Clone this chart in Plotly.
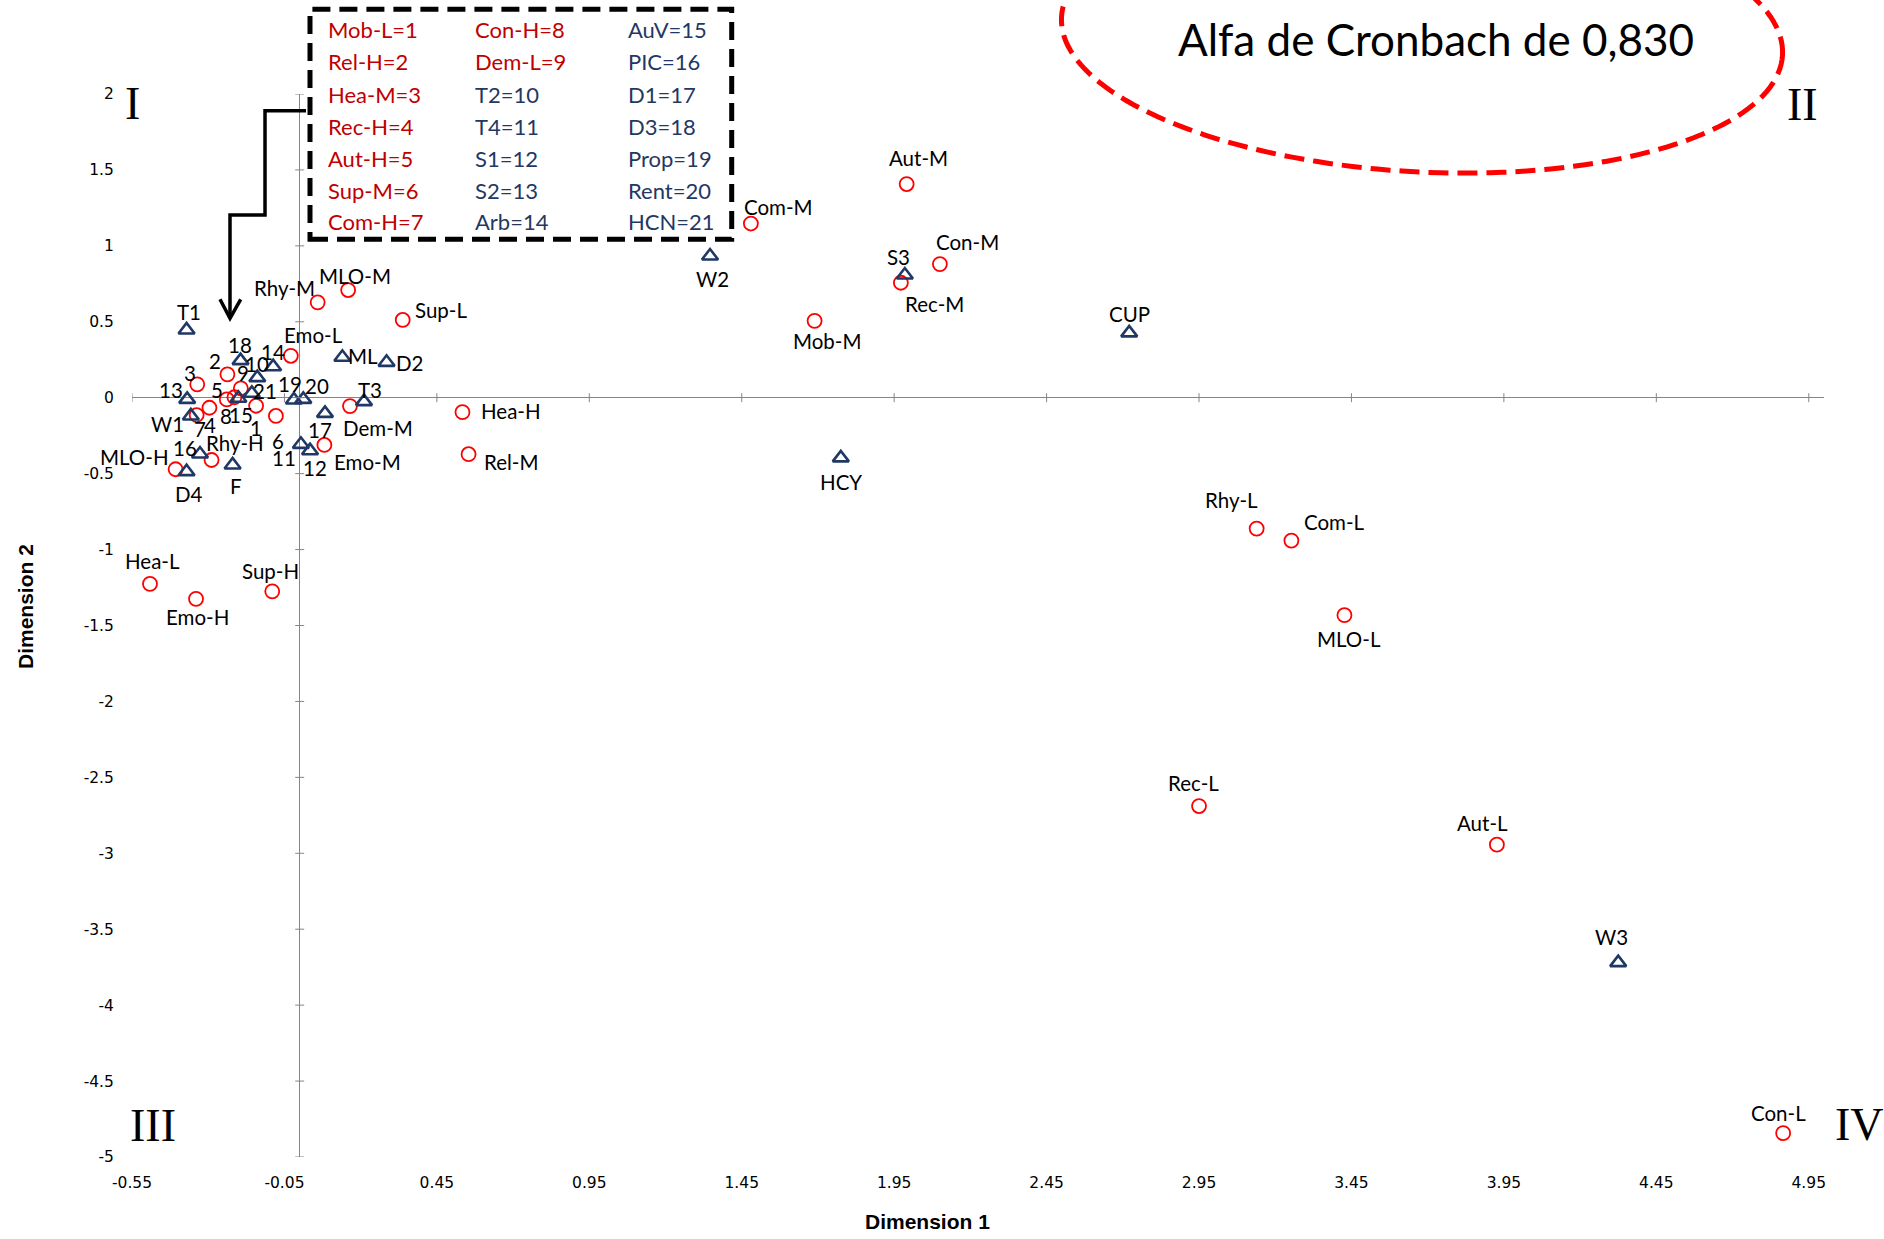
import math
import plotly.graph_objects as go

# ---------------- data ----------------
cat_text = ["1", "2", "3", "4", "5", "6", "7", "8", "9",
            "Rhy-M", "MLO-M", "Sup-L", "Emo-L", "Dem-M", "Emo-M", "Rhy-H", "MLO-H",
            "Hea-H", "Rel-M", "Hea-L", "Emo-H", "Sup-H", "Aut-M", "Con-M", "Rec-M",
            "Com-M", "Mob-M", "Rhy-L", "Com-L", "MLO-L", "Rec-L", "Aut-L", "Con-L"]
cat_x = [-0.143, -0.237, -0.336, -0.296, -0.239, -0.078, -0.338, -0.214, -0.193,
         0.059, 0.159, 0.338, -0.029, 0.165, 0.081, -0.289, -0.407,
         0.534, 0.554, -0.491, -0.340, -0.090, 1.991, 2.100, 1.972,
         1.480, 1.689, 3.139, 3.253, 3.427, 2.950, 3.927, 4.866]
cat_y = [-0.053, 0.154, 0.088, -0.066, -0.011, -0.120, -0.114, 0.003, 0.062,
         0.628, 0.709, 0.512, 0.276, -0.055, -0.311, -0.410, -0.471,
         -0.095, -0.372, -1.226, -1.325, -1.275, 1.407, 0.880, 0.757,
         1.147, 0.506, -0.862, -0.941, -1.432, -2.689, -2.943, -4.843]

var_text = ["10", "11", "12", "13", "14", "15", "16", "17", "18", "19", "20", "21",
            "T1", "ML", "D2", "T3", "W1", "D4", "F", "W2", "S3", "CUP", "HCY", "W3"]
var_x = [-0.139, 0.004, 0.034, -0.369, -0.087, -0.201, -0.327, 0.083, -0.194, -0.019, 0.012, -0.157,
         -0.371, 0.140, 0.285, 0.211, -0.357, -0.371, -0.220, 1.346, 1.985, 2.721, 1.775, 4.325]
var_y = [0.132, -0.307, -0.349, -0.011, 0.204, -0.004, -0.371, -0.103, 0.244, -0.015, -0.011, 0.029,
         0.446, 0.266, 0.233, -0.026, -0.120, -0.487, -0.443, 0.933, 0.808, 0.427, -0.396, -3.720]

legend_cat = ["Mob-L=1", "Rel-H=2", "Hea-M=3", "Rec-H=4", "Aut-H=5", "Sup-M=6", "Com-H=7",
              "Con-H=8", "Dem-L=9"]
legend_var = ["T2=10", "T4=11", "S1=12", "S2=13", "Arb=14",
              "AuV=15", "PIC=16", "D1=17", "D3=18", "Prop=19", "Rent=20", "HCN=21"]

x_ticks = [-0.55, -0.05, 0.45, 0.95, 1.45, 1.95, 2.45, 2.95, 3.45, 3.95, 4.45, 4.95]
y_ticks = [2, 1.5, 1, 0.5, 0, -0.5, -1, -1.5, -2, -2.5, -3, -3.5, -4, -4.5, -5]

# label offsets in pixels (dx right, dy down)
label_off = {
    "1": (0, 22), "2": (-12, -13), "3": (-7, -11), "4": (1, 17), "5": (-10, -9), "6": (2, 25),
    "7": (3, 14), "8": (-8, 19), "9": (2, -15),
    "10": (0, -14), "11": (-17, 14), "12": (5, 17), "13": (-16, -9), "14": (0, -15), "15": (3, 17),
    "16": (-15, -6), "17": (-5, 17), "18": (-1, -16), "19": (-4, -16), "20": (14, -13), "21": (13, -2),
    "T1": (2, -18), "ML": (21, -1), "D2": (23, 1), "T3": (6, -12), "W1": (-23, 8), "D4": (2, 22),
    "F": (3, 21), "W2": (2, 23), "S3": (-6, -18), "CUP": (0, -19), "HCY": (0, 24), "W3": (-7, -26),
    "Rhy-M": (-33, -14), "MLO-M": (7, -14), "Sup-L": (38, -10), "Emo-L": (23, -21), "Dem-M": (28, 22),
    "Emo-M": (43, 17), "Rhy-H": (23, -17), "MLO-H": (-41, -12), "Hea-H": (49, -1), "Rel-M": (43, 8),
    "Hea-L": (3, -23), "Emo-H": (1, 18), "Sup-H": (-2, -20), "Aut-M": (12, -26), "Con-M": (28, -22),
    "Rec-M": (34, 21), "Com-M": (28, -17), "Mob-M": (12, 20), "Rhy-L": (-25, -29), "Com-L": (43, -19),
    "MLO-L": (5, 24), "Rec-L": (-6, -23), "Aut-L": (-14, -22), "Con-L": (-5, -20),
}

# ---------------- layout geometry ----------------
W, H = 1884, 1239
ML_, MR_, MT_, MB_ = 132, 60, 94, 82
PW, PH = W - ML_ - MR_, H - MT_ - MB_


def px(xp):
    return (xp - ML_) / PW


def py(yp):
    return (H - MB_ - yp) / PH


RED = "#FF0000"
NAVY = "#1F3864"
LBL_FONT = dict(family="Lato, 'Open Sans', sans-serif", size=20.5, color="#000000")

fig = go.Figure()
fig.add_trace(go.Scatter(
    x=cat_x, y=cat_y, mode="markers", hoverinfo="text", text=cat_text,
    marker=dict(symbol="circle-open", size=14, color=RED, line=dict(width=1.8, color=RED)),
    showlegend=False))
fig.add_trace(go.Scatter(
    x=var_x, y=var_y, mode="markers", hoverinfo="text", text=var_text,
    marker=dict(symbol="triangle-up-open", size=14, color=NAVY, line=dict(width=2.6, color=NAVY)),
    showlegend=False))

annotations = []
for names, xs, ys in ((cat_text, cat_x, cat_y), (var_text, var_x, var_y)):
    for t, xv, yv in zip(names, xs, ys):
        dx, dy = label_off.get(t, (0, -18))
        annotations.append(dict(x=xv, y=yv, xref="x", yref="y", text=t, showarrow=False,
                                xanchor="center", yanchor="middle",
                                xshift=dx, yshift=-dy, font=LBL_FONT))

# legend box text
LEG_FONT = 22
row_y = [29.3, 61.7, 94.3, 126, 158.3, 190, 221.7]
col_x = [326, 473.3, 626]
legend_cols = [legend_cat[:7], legend_cat[7:] + legend_var[:5], legend_var[5:]]
for ci, col in enumerate(legend_cols):
    for ri, t in enumerate(col):
        color = "#C00000" if int(t.split("=")[1]) <= 9 else NAVY
        annotations.append(dict(x=px(col_x[ci]), y=py(row_y[ri]), xref="paper", yref="paper",
                                text=t, showarrow=False, xanchor="left", yanchor="middle",
                                font=dict(family="Lato, 'Open Sans', sans-serif", size=LEG_FONT,
                                          color=color)))

# quadrant labels
QF = dict(family="'Liberation Serif', 'Times New Roman', serif", size=46, color="#000000")
for t, xp_, yp_ in (("I", 132.5, 103), ("II", 1802, 104), ("III", 152.6, 1125), ("IV", 1859, 1124)):
    annotations.append(dict(x=px(xp_), y=py(yp_), xref="paper", yref="paper", text=t,
                            showarrow=False, xanchor="center", yanchor="middle", font=QF))

# alpha text
annotations.append(dict(x=px(1436), y=py(39), xref="paper", yref="paper",
                        text="Alfa de Cronbach de 0,830", showarrow=False,
                        xanchor="center", yanchor="middle",
                        font=dict(family="Lato, 'Open Sans', sans-serif", size=44, color="#000000")))

# axis titles
annotations.append(dict(x=px(927.5), y=py(1221), xref="paper", yref="paper", text="<b>Dimension 1</b>",
                        showarrow=False, xanchor="center", yanchor="middle",
                        font=dict(family="'Liberation Sans', Arial, sans-serif", size=21, color="#000000")))
annotations.append(dict(x=px(25), y=py(607), xref="paper", yref="paper", text="<b>Dimension 2</b>",
                        showarrow=False, textangle=-90, xanchor="center", yanchor="middle",
                        font=dict(family="'Liberation Sans', Arial, sans-serif", size=21, color="#000000")))

shapes = []
AX = "#868686"
for v in x_ticks:
    shapes.append(dict(type="line", xref="x", yref="y", x0=v, x1=v, ysizemode="pixel", yanchor=0,
                       y0=-4.5, y1=4.5, line=dict(color=AX, width=1)))
for v in y_ticks:
    shapes.append(dict(type="line", xref="x", yref="y", y0=v, y1=v, xsizemode="pixel", xanchor=0,
                       x0=-4.5, x1=4.5, line=dict(color=AX, width=1)))

# dashed legend rectangle
shapes.append(dict(type="rect", xref="paper", yref="paper", x0=px(310), x1=px(731.7),
                   y0=py(239.3), y1=py(9.3), line=dict(color="#000000", width=5, dash="18px,9px")))

# connector arrow
pts = [(306, 110.7), (265, 110.7), (265, 215), (230, 215), (230, 316)]
path = "M " + " L ".join(f"{px(a):.5f},{py(b):.5f}" for a, b in pts)
shapes.append(dict(type="path", xref="paper", yref="paper", path=path,
                   line=dict(color="#000000", width=3.5)))
head = [(220, 299.3), (230, 318.3), (240.7, 299.3)]
path = "M " + " L ".join(f"{px(a):.5f},{py(b):.5f}" for a, b in head)
shapes.append(dict(type="path", xref="paper", yref="paper", path=path,
                   line=dict(color="#000000", width=3.5)))

# red dashed ellipse (slightly tilted)
cx, cy, ea, eb, th = 1422, 36, 361, 136, math.radians(3)
ell = []
for i in range(181):
    t = 2 * math.pi * i / 180
    xe = cx + ea * math.cos(t) * math.cos(th) - eb * math.sin(t) * math.sin(th)
    ye = cy + ea * math.cos(t) * math.sin(th) + eb * math.sin(t) * math.cos(th)
    ell.append((xe, ye))
path = "M " + " L ".join(f"{px(a):.5f},{py(b):.5f}" for a, b in ell) + " Z"
shapes.append(dict(type="path", xref="paper", yref="paper", path=path,
                   line=dict(color=RED, width=5, dash="20px,9px")))

TICKF = dict(family="'DejaVu Sans', sans-serif", size=15.5, color="#000000")
fig.update_layout(
    width=W, height=H,
    margin=dict(l=ML_, r=MR_, t=MT_, b=MB_, pad=0),
    paper_bgcolor="white", plot_bgcolor="white",
    showlegend=False,
    annotations=annotations, shapes=shapes,
    xaxis=dict(range=[-0.55, 5.0], showgrid=False, zeroline=True, zerolinecolor=AX, zerolinewidth=1,
               showline=False, tickmode="array", tickvals=x_ticks,
               ticktext=[f"{v:g}" for v in x_ticks], ticks="outside", ticklen=11,
               tickcolor="rgba(0,0,0,0)", tickfont=TICKF),
    yaxis=dict(range=[-5, 2], showgrid=False, zeroline=True, zerolinecolor=AX, zerolinewidth=1,
               showline=False, tickmode="array", tickvals=y_ticks,
               ticktext=[f"{v:g}" for v in y_ticks], ticks="outside", ticklen=14,
               tickcolor="rgba(0,0,0,0)", tickfont=TICKF),
)

fig.write_html("out.html", config={"displayModeBar": False},
               post_script="document.body.style.margin='0';document.body.style.overflow='hidden';")
